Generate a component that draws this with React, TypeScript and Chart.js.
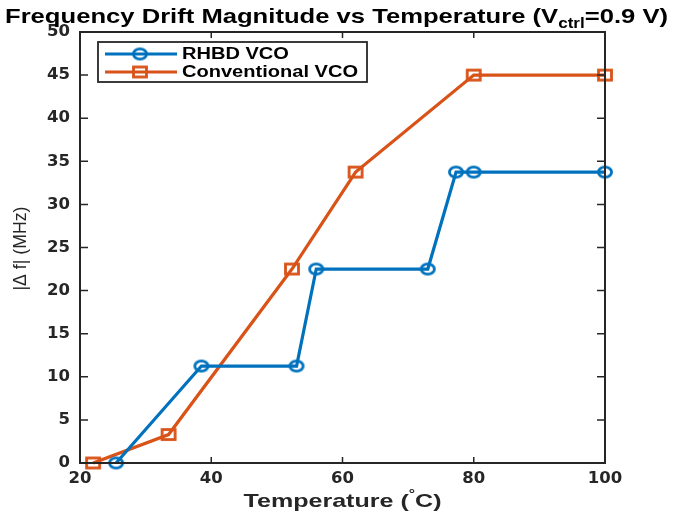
import React, { useEffect, useRef } from "react";
import { Chart, registerables } from "chart.js";
Chart.register(...registerables);

const rhbdTemp = [25.5, 38.5, 53, 56, 73, 77.3, 80, 100];
const rhbdDrift = [0, 11.25, 11.25, 22.5, 22.5, 33.75, 33.75, 33.75];
const convTemp = [22, 33.5, 52.3, 62, 80, 100];
const convDrift = [0, 3.3, 22.5, 33.75, 45, 45];
const xTicks = [20, 40, 60, 80, 100];
const yTicks = [0, 5, 10, 15, 20, 25, 30, 35, 40, 45, 50];
const seriesNames = ["RHBD VCO", "Conventional VCO"];
const titleMain = "Frequency Drift Magnitude vs Temperature (V";
const titleSub = "ctrl";
const titleEnd = "=0.9 V)";
const xTitleMain = "Temperature (";
const xTitleSup = "°";
const xTitleEnd = "C)";
const yTitle = "|Δ f| (MHz)";

const BLUE = "#0072BD";
const ORANGE = "#D95319";
const AXIS = "#262626";
const FONT = "'Liberation Sans', Arial, sans-serif";

function makeMarker(kind: string, color: string): HTMLCanvasElement {
  const c = document.createElement("canvas");
  c.width = 18;
  c.height = 15;
  const g = c.getContext("2d")!;
  g.strokeStyle = color;
  g.lineWidth = 2.8;
  if (kind === "circle") {
    g.beginPath();
    g.ellipse(9, 7.5, 6.6, 5.2, 0, 0, Math.PI * 2);
    g.stroke();
  } else {
    g.strokeRect(2.5, 2.5, 13, 10);
  }
  return c;
}

type Run = { text: string; font: string; dy: number };

function drawRuns(ctx: CanvasRenderingContext2D, runs: Run[], cx: number, y: number, width: number, align: "center" | "left" = "center", sxFixed?: number) {
  let total = 0;
  const ws: number[] = [];
  for (const r of runs) {
    ctx.font = r.font;
    const w = ctx.measureText(r.text).width;
    ws.push(w);
    total += w;
  }
  const sx = sxFixed ?? width / total;
  ctx.save();
  const start = align === "center" ? cx - (total * sx) / 2 : cx;
  ctx.translate(start, y);
  ctx.scale(sx, 1);
  ctx.textAlign = "left";
  let cur = 0;
  runs.forEach((r, i) => {
    ctx.font = r.font;
    ctx.fillText(r.text, cur, r.dy);
    cur += ws[i];
  });
  ctx.restore();
  return sx;
}

export default function App() {
  const ref = useRef<HTMLCanvasElement>(null);
  useEffect(() => {
    const circ = makeMarker("circle", BLUE);
    const sq = makeMarker("rect", ORANGE);
    const markers = [circ, sq];

    const decor = {
      id: "decor",
      afterDatasetsDraw(chart: any) {
        const ctx: CanvasRenderingContext2D = chart.ctx;
        const a = chart.chartArea;
        const xs = chart.scales.x;
        const ys = chart.scales.y;
        ctx.save();
        ctx.strokeStyle = AXIS;
        ctx.lineWidth = 2;
        ctx.strokeRect(a.left, a.top, a.right - a.left, a.bottom - a.top);
        ctx.lineWidth = 1.5;
        ctx.beginPath();
        for (const v of xTicks) {
          const p = xs.getPixelForValue(v);
          ctx.moveTo(p, a.bottom);
          ctx.lineTo(p, a.bottom - 6);
          ctx.moveTo(p, a.top);
          ctx.lineTo(p, a.top + 6);
        }
        for (const v of yTicks) {
          const p = ys.getPixelForValue(v);
          ctx.moveTo(a.left, p);
          ctx.lineTo(a.left + 8, p);
          ctx.moveTo(a.right, p);
          ctx.lineTo(a.right - 8, p);
        }
        ctx.stroke();

        // legend
        const bx = 98, by = 42, bw = 269, bh = 40;
        ctx.fillStyle = "#fff";
        ctx.fillRect(bx, by, bw, bh);
        ctx.strokeStyle = AXIS;
        ctx.lineWidth = 1.8;
        ctx.strokeRect(bx, by, bw, bh);
        const legFont = `bold 16px ${FONT}`;
        ctx.font = legFont;
        const sxLeg = 176 / ctx.measureText(seriesNames[1]).width;
        chart.data.datasets.forEach((ds: any, i: number) => {
          const yy = 54 + i * 18;
          ctx.strokeStyle = ds.borderColor;
          ctx.lineWidth = 3;
          ctx.beginPath();
          ctx.moveTo(105, yy);
          ctx.lineTo(177, yy);
          ctx.stroke();
          const m = markers[i];
          ctx.drawImage(m, 140 - m.width / 2, yy - m.height / 2);
          ctx.fillStyle = "#000";
          ctx.textBaseline = "middle";
          drawRuns(ctx, [{ text: ds.label, font: legFont, dy: 0 }], 182, yy + 1, 0, "left", sxLeg);
        });

        // title
        ctx.fillStyle = "#000";
        ctx.textBaseline = "alphabetic";
        drawRuns(
          ctx,
          [
            { text: titleMain, font: `bold 21px ${FONT}`, dy: 0 },
            { text: titleSub, font: `bold 14px ${FONT}`, dy: 5 },
            { text: titleEnd, font: `bold 21px ${FONT}`, dy: 0 },
          ],
          336.5,
          23,
          663
        );
        // x title
        ctx.fillStyle = "#262626";
        drawRuns(
          ctx,
          [
            { text: xTitleMain, font: `bold 19px ${FONT}`, dy: 0 },
            { text: xTitleSup, font: `bold 12px ${FONT}`, dy: -9 },
            { text: xTitleEnd, font: `bold 19px ${FONT}`, dy: 0 },
          ],
          (a.left + a.right) / 2,
          507,
          198
        );
        // y title
        ctx.save();
        ctx.translate(21, (a.top + a.bottom) / 2 + 1);
        ctx.rotate(-Math.PI / 2);
        ctx.textBaseline = "middle";
        drawRuns(ctx, [{ text: yTitle, font: `18px ${FONT}`, dy: 0 }], 0, 0, 84);
        ctx.restore();
        ctx.restore();
      },
    };

    const chart = new Chart(ref.current!, {
      type: "line",
      data: {
        datasets: [
          {
            label: seriesNames[0],
            data: rhbdTemp.map((t, i) => ({ x: t, y: rhbdDrift[i] })),
            borderColor: BLUE,
            backgroundColor: BLUE,
            borderWidth: 3.2,
            pointStyle: circ,
            pointRadius: 7,
            pointHoverRadius: 7,
            tension: 0,
            clip: false as any,
          },
          {
            label: seriesNames[1],
            data: convTemp.map((t, i) => ({ x: t, y: convDrift[i] })),
            borderColor: ORANGE,
            backgroundColor: ORANGE,
            borderWidth: 3.2,
            pointStyle: sq,
            pointRadius: 7,
            pointHoverRadius: 7,
            tension: 0,
            clip: false as any,
          },
        ],
      },
      options: {
        animation: false,
        responsive: true,
        maintainAspectRatio: false,
        layout: { padding: { top: 32, right: 83, left: 0, bottom: 0 } },
        plugins: { legend: { display: false }, title: { display: false }, tooltip: { enabled: false } },
        events: [],
        scales: {
          x: {
            type: "linear",
            min: 20,
            max: 100,
            afterBuildTicks: (s: any) => {
              s.ticks = xTicks.map((v) => ({ value: v }));
            },
            afterFit: (s: any) => {
              s.height = 52;
            },
            grid: { display: false, drawTicks: false },
            border: { display: false },
            ticks: {
              padding: 6,
              color: AXIS,
              font: { family: "'DejaVu Sans'", weight: "bold", size: 16.5 },
              maxRotation: 0,
            },
          },
          y: {
            type: "linear",
            min: 0,
            max: 50,
            afterBuildTicks: (s: any) => {
              s.ticks = yTicks.map((v) => ({ value: v }));
            },
            afterFit: (s: any) => {
              s.width = 80;
            },
            grid: { display: false, drawTicks: false },
            border: { display: false },
            ticks: {
              padding: 10,
              color: AXIS,
              font: { family: "'DejaVu Sans'", weight: "bold", size: 16.5 },
            },
          },
        },
      },
      plugins: [decor],
    });
    return () => chart.destroy();
  }, []);

  return (
    <div style={{ position: "fixed", left: 0, top: 0, width: 688, height: 515, background: "#fff" }}>
      <canvas ref={ref} />
    </div>
  );
}
